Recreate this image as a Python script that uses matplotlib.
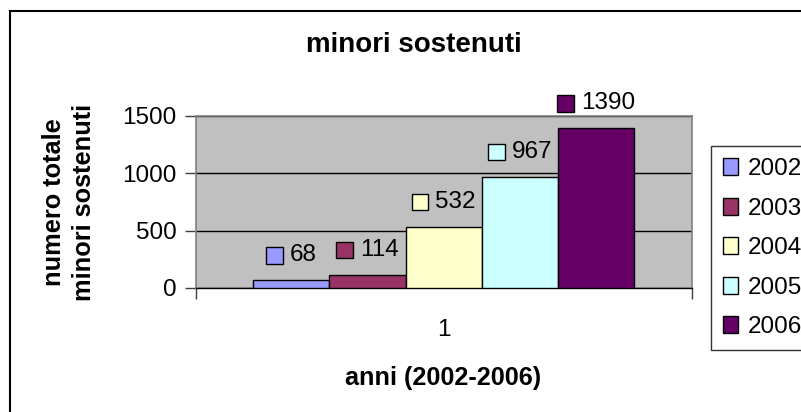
import matplotlib
matplotlib.use("Agg")
import matplotlib.pyplot as plt
from matplotlib.patches import Rectangle
from matplotlib.offsetbox import AnnotationBbox, HPacker, DrawingArea, TextArea
import numpy as np

plt.rcParams['font.family'] = ['Liberation Sans', 'DejaVu Sans']

# Data
years = ['2002', '2003', '2004', '2005', '2006']
values = [68, 114, 532, 967, 1390]
colors = ['#9999FF', '#993366', '#FFFFCC', '#CCFFFF', '#660066']
category = ['1']
yticks = [0, 500, 1000, 1500]

W, H = 801, 412
fig = plt.figure(figsize=(W / 100, H / 100), dpi=100)

# outer chart border
fig.patches.append(Rectangle((10 / W, -0.1), 1.2, (H - 10.5) / H + 0.1, transform=fig.transFigure,
                             fill=False, edgecolor='black', linewidth=1.5, zorder=0))

ax = fig.add_axes([195.7 / W, (H - 288) / H, (691.7 - 195.7) / W, (288 - 115.7) / H])
ax.set_facecolor('#C0C0C0')

n = len(values)
offsets = np.arange(n) - (n - 1) / 2
for off, v, c, y in zip(offsets, values, colors, years):
    ax.bar(off, v, width=1.0, color=c, edgecolor='black', linewidth=1.0, label=y, zorder=3)

half = (691.7 - 195.7) / 2 / 76.2
ax.set_xlim(-half, half)
ax.set_ylim(0, 1500)
ax.set_yticks(yticks)
ax.set_yticklabels([str(t) for t in yticks], fontsize=17.5)
ax.set_xticks([0])
ax.set_xticklabels(category, fontsize=17.5)
ax.tick_params(axis='x', length=0, pad=22)
ax.set_xticks([-half, half], minor=True)
ax.tick_params(axis='x', which='minor', length=8, width=1, color='#404040', direction='out')
ax.tick_params(axis='y', length=8, width=1, color='#404040', direction='out', pad=6)
ax.yaxis.grid(True, color='black', linewidth=1.0, zorder=1)
ax.set_axisbelow(True)
for s in ['top', 'right']:
    ax.spines[s].set_color('#808080')
    ax.spines[s].set_linewidth(1.2)
ax.spines['left'].set_color('#808080')
ax.spines['left'].set_linewidth(1.2)
ax.spines['bottom'].set_color('black')
ax.spines['bottom'].set_linewidth(1.0)

# data labels: legend key + value
for off, v, c in zip(offsets, values, colors):
    da = DrawingArea(12, 12, 0, 0)
    da.add_artist(Rectangle((0, 0), 12, 12, facecolor=c, edgecolor='black', linewidth=1.0))
    ta = TextArea(str(v), textprops=dict(fontsize=17.5, color='black'))
    box = HPacker(children=[da, ta], align='center', pad=0, sep=5)
    ab = AnnotationBbox(box, (off, v), xybox=(0, 18), xycoords='data', boxcoords='offset points',
                        frameon=False, box_alignment=(0.5, 0.5), annotation_clip=False)
    ax.add_artist(ab)

# legend
handles = [Rectangle((0, 0), 1, 1, facecolor=c, edgecolor='black', linewidth=1.0) for c in colors]
leg = fig.legend(handles, years, loc='upper left', bbox_to_anchor=(711 / W, 1 - 146 / H),
                 fontsize=17.5, frameon=True, fancybox=False, edgecolor='black',
                 handlelength=0.6, handleheight=0.7, handletextpad=0.4, labelspacing=0.72,
                 borderpad=0.5, borderaxespad=0)
leg.get_frame().set_linewidth(1.0)

fig.text(414 / W, 1 - 45 / H, 'minori sostenuti', fontsize=20, fontweight='bold', ha='center', va='center')
fig.text(69 / W, 1 - 202.5 / H, 'numero totale\nminori sostenuti', fontsize=18.3, fontweight='bold',
         ha='center', va='center', rotation=90, multialignment='center', linespacing=1.28)
fig.text(443.5 / W, 1 - 378 / H, 'anni (2002-2006)', fontsize=18.2, fontweight='bold', ha='center', va='center')

fig.savefig('out.png', dpi=100, facecolor='white')
